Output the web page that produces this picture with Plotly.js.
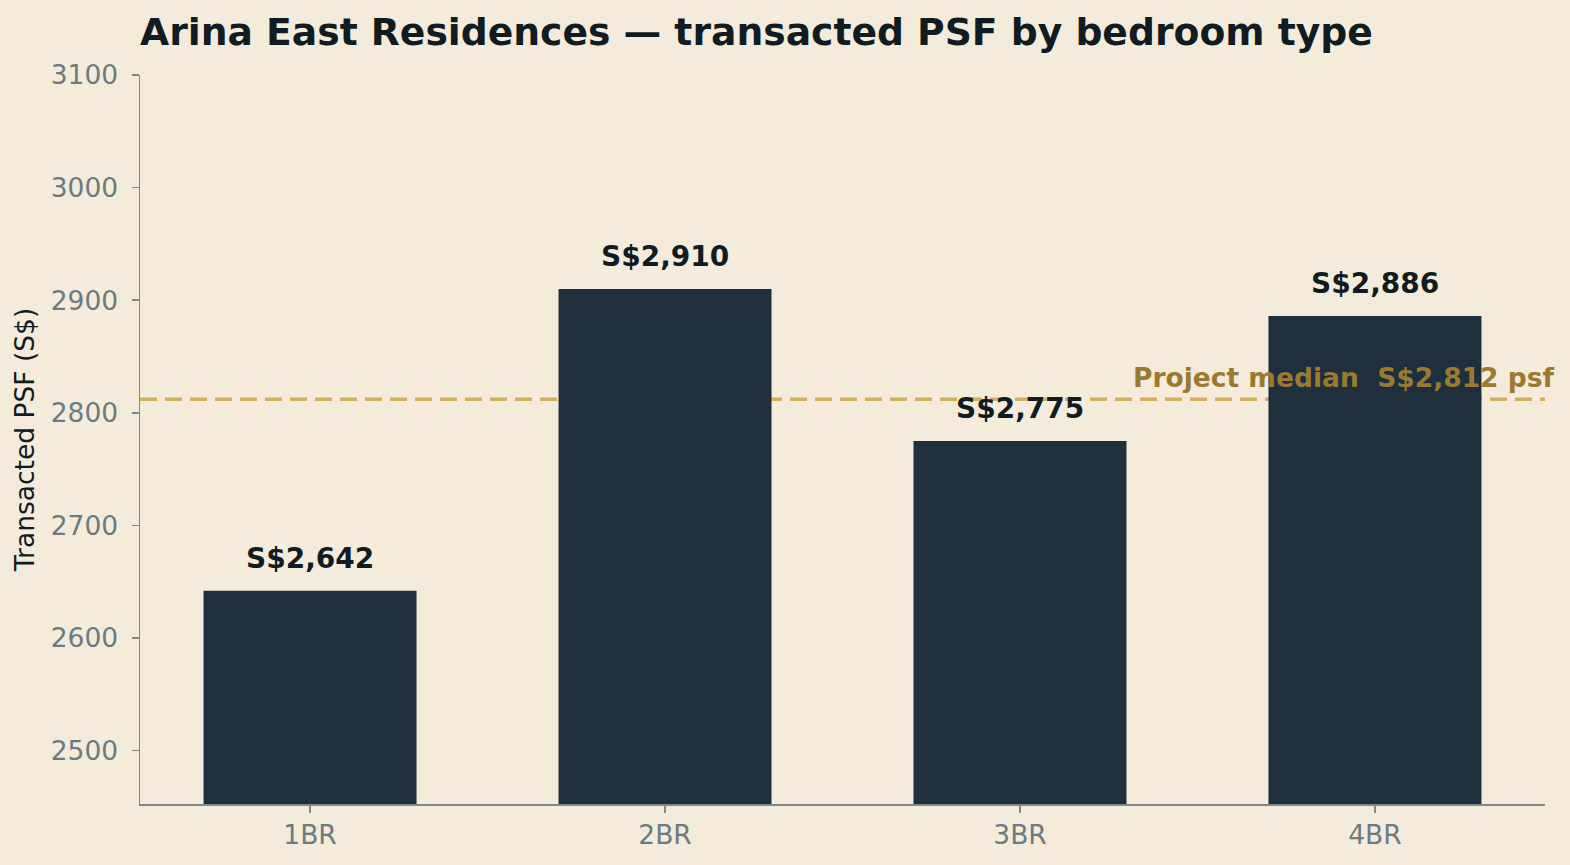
<!DOCTYPE html>
<html>
<head>
<meta charset="utf-8">
<script src="https://cdn.plot.ly/plotly-3.0.1.min.js"></script>
<style>
  html, body { margin: 0; padding: 0; background: #f5ebdb; }
  #chart { width: 1570px; height: 865px; }
</style>
</head>
<body>
<div id="chart"></div>
<script>
// Transacted PSF by bedroom type
const bedroomTypes = ["1BR", "2BR", "3BR", "4BR"];
const psfValues = [2642, 2910, 2775, 2886];
const projectMedian = 2812;

const fmt = v => "S$" + v.toLocaleString("en-US");

const bars = {
  type: "bar",
  x: bedroomTypes,
  y: psfValues,
  width: 0.6,
  marker: { color: "#1e2f3e" },
  hoverinfo: "x+y",
  showlegend: false
};

const valueLabels = bedroomTypes.map((c, i) => ({
  x: c, y: psfValues[i], xref: "x", yref: "y",
  text: "<b>" + fmt(psfValues[i]) + "</b>",
  showarrow: false, yanchor: "bottom", yshift: 14,
  font: { family: "DejaVu Sans", size: 28, color: "#111c22" }
}));

const layout = {
  width: 1570, height: 865,
  paper_bgcolor: "#f5ebdb",
  plot_bgcolor: "#f5ebdb",
  margin: { l: 140, r: 25, t: 75, b: 61 },
  font: { family: "DejaVu Sans" },
  title: {
    text: "<b>Arina East Residences — transacted PSF by bedroom type</b>",
    font: { family: "DejaVu Sans", size: 37.7, color: "#111c22" },
    x: 0, xanchor: "left", xref: "paper",
    y: 1 - 32 / 865, yanchor: "middle", yref: "container"
  },
  xaxis: {
    type: "category",
    range: [-0.479, 3.479],
    showline: true, linecolor: "#7f8a8f", linewidth: 1.5,
    ticks: "outside", ticklen: 7, tickcolor: "#7f8a8f", tickwidth: 1.5,
    tickfont: { family: "DejaVu Sans", size: 26.5, color: "#6b7b80" },
    showgrid: false, zeroline: false, mirror: false
  },
  yaxis: {
    range: [2452.7, 3100],
    tickvals: [2500, 2600, 2700, 2800, 2900, 3000, 3100],
    showline: true, linecolor: "#7f8a8f", linewidth: 1.5,
    ticks: "outside", ticklen: 7, tickcolor: "#7f8a8f", tickwidth: 1.5,
    ticklabelstandoff: 8,
    tickfont: { family: "DejaVu Sans", size: 26.5, color: "#6b7b80" },
    showgrid: false, zeroline: false, mirror: false,
    title: {
      text: "Transacted PSF (S$)",
      font: { family: "DejaVu Sans", size: 26.5, color: "#111c22" },
      standoff: 8
    }
  },
  shapes: [{
    type: "line", xref: "paper", yref: "y",
    x0: 0, x1: 1, y0: projectMedian, y1: projectMedian,
    line: { color: "#d4ae5c", width: 3.5, dash: "17px,8px" },
    layer: "below"
  }],
  annotations: valueLabels.concat([{
    x: 1.0085, xref: "paper", y: projectMedian, yref: "y",
    xanchor: "right", yanchor: "bottom", yshift: 4,
    text: "<b>Project median  " + fmt(projectMedian) + " psf</b>",
    showarrow: false,
    font: { family: "DejaVu Sans", size: 26.5, color: "#9a7a30" }
  }]),
  bargap: 0.4
};

Plotly.newPlot("chart", [bars], layout, { displayModeBar: false, staticPlot: true });
</script>
</body>
</html>
